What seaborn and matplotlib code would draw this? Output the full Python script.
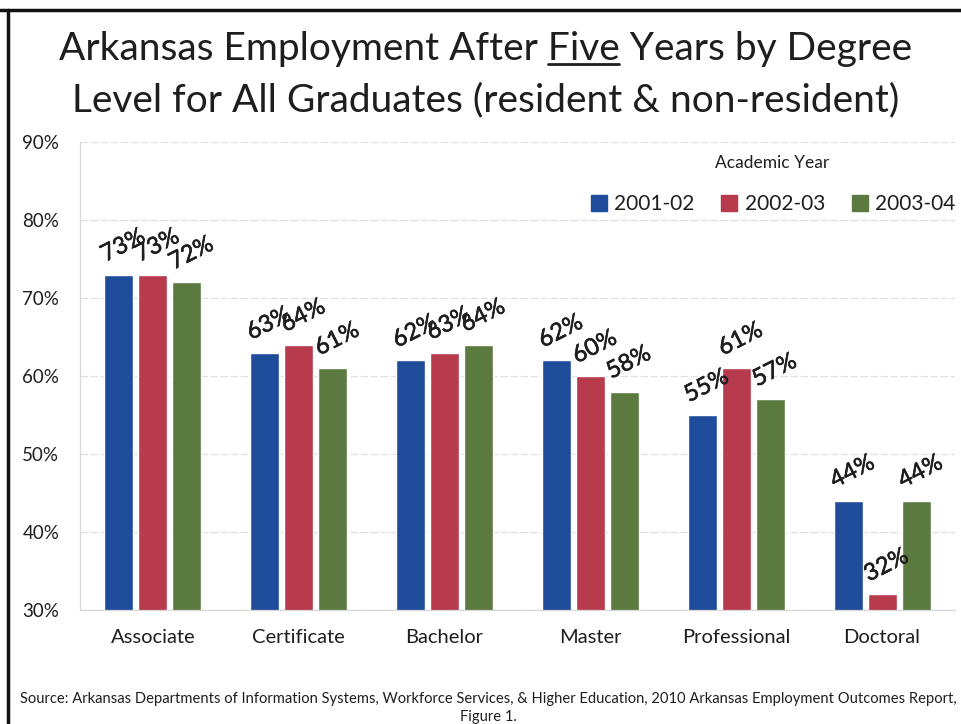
import matplotlib
matplotlib.use("Agg")
import matplotlib.pyplot as plt
import matplotlib.patheffects as pe
import pandas as pd
import seaborn as sns
from matplotlib.lines import Line2D

degrees = ["Associate", "Certificate", "Bachelor", "Master", "Professional", "Doctoral"]
years = ["2001-02", "2002-03", "2003-04"]
y2001 = [73, 63, 62, 62, 55, 44]
y2002 = [73, 64, 63, 60, 61, 32]
y2003 = [72, 61, 64, 58, 57, 44]
yticks = [30, 40, 50, 60, 70, 80, 90]

df = pd.DataFrame({
    "degree": degrees * 3,
    "year": [years[0]] * 6 + [years[1]] * 6 + [years[2]] * 6,
    "pct": y2001 + y2002 + y2003,
})

palette = {"2001-02": "#1f4d9b", "2002-03": "#b83a4d", "2003-04": "#5b7a40"}

sns.set_theme(style="white")
plt.rcParams["font.family"] = ["Lato", "DejaVu Sans"]
txt = "#1e1e1e"

fig = plt.figure(figsize=(9.61, 7.24), dpi=100)
ax = fig.add_axes([80 / 961, 114 / 724, 875 / 961, 468 / 724])

sns.barplot(data=df, x="degree", y="pct", hue="year", order=degrees,
            hue_order=years, palette=palette, width=0.7, gap=0.15,
            saturation=1, ax=ax, legend=False)

ax.set_ylim(30, 90)
ax.set_xlim(-0.5, 5.5)
ax.set_yticks(yticks)
ax.set_yticklabels([f"{v}%" for v in yticks], fontsize=13.5, color=txt)
ax.tick_params(axis="x", length=0, labelsize=14.5, labelcolor=txt, pad=14)
ax.tick_params(axis="y", length=5, color="#d8d8d8", pad=10)
ax.set_xticks([i - 0.5 for i in range(7)], minor=True)
ax.tick_params(axis="x", which="minor", length=5, color="#d8d8d8", direction="out")
ax.set_xlabel("")
ax.set_ylabel("")
ax.yaxis.grid(True, color="#e0e0e0", linewidth=0.9, linestyle=(0, (6, 2)))
ax.set_axisbelow(True)
for s in ["top", "right"]:
    ax.spines[s].set_visible(False)
for s in ["left", "bottom"]:
    ax.spines[s].set_color("#d8d8d8")
    ax.spines[s].set_linewidth(0.9)

# rotated value labels above the bars (light stroke to mimic the scanned weight)
bold = [pe.withStroke(linewidth=0.4, foreground=txt)]
for cont in ax.containers:
    for bar in cont:
        h = bar.get_height()
        ax.text(bar.get_x() + bar.get_width() / 2 + 0.03, h + 3.7, f"{h:.0f}%",
                rotation=27, rotation_mode="anchor", ha="center", va="center",
                fontsize=17, color=txt, path_effects=bold)

handles = [Line2D([0], [0], marker="s", linestyle="", markersize=11,
                  markerfacecolor=palette[y], markeredgecolor=palette[y]) for y in years]
leg = ax.legend(handles, years, title="Academic Year", ncol=3, frameon=False,
                loc="upper right", bbox_to_anchor=(1.022, 1.013), fontsize=15,
                title_fontsize=12.5, handletextpad=0.25, columnspacing=1.15,
                handlelength=1.0)
for t in leg.get_texts():
    t.set_color(txt)
leg.get_title().set_color(txt)
leg._legend_box.sep = 17

# title, two lines; "Five" is underlined
title1 = "Arkansas Employment After Five Years by Degree"
title2 = "Level for All Graduates (resident & non-resident)"
tsize = 28
t1 = fig.text(0.505, 0.932, title1, ha="center", va="center", fontsize=tsize, color=txt)
fig.text(0.505, 0.862, title2, ha="center", va="center", fontsize=tsize, color=txt)

renderer = fig.canvas.get_renderer()
bb = t1.get_window_extent(renderer)
pre = fig.text(0, 0, "Arkansas Employment After ", fontsize=tsize)
word = fig.text(0, 0, "Five", fontsize=tsize)
x0 = bb.x0 + pre.get_window_extent(renderer).width
x1 = x0 + word.get_window_extent(renderer).width
pre.remove()
word.remove()
uy = bb.y0 + 0.1 * bb.height
fig.add_artist(Line2D([x0 / fig.bbox.width, x1 / fig.bbox.width],
                      [uy / fig.bbox.height] * 2, color=txt, linewidth=2))

fig.text(0.508, 0.022, "Source: Arkansas Departments of Information Systems, Workforce Services, "
         "& Higher Education, 2010 Arkansas Employment Outcomes Report,\nFigure 1.",
         ha="center", va="center", fontsize=10.6, color=txt, linespacing=1.4)

# slide frame
fig.add_artist(Line2D([0, 1], [1 - 10 / 724] * 2, color="#111111", linewidth=2.5))
fig.add_artist(Line2D([8 / 961] * 2, [0, 1 - 10 / 724], color="#111111", linewidth=2.5))

fig.savefig("out.png", dpi=100)
